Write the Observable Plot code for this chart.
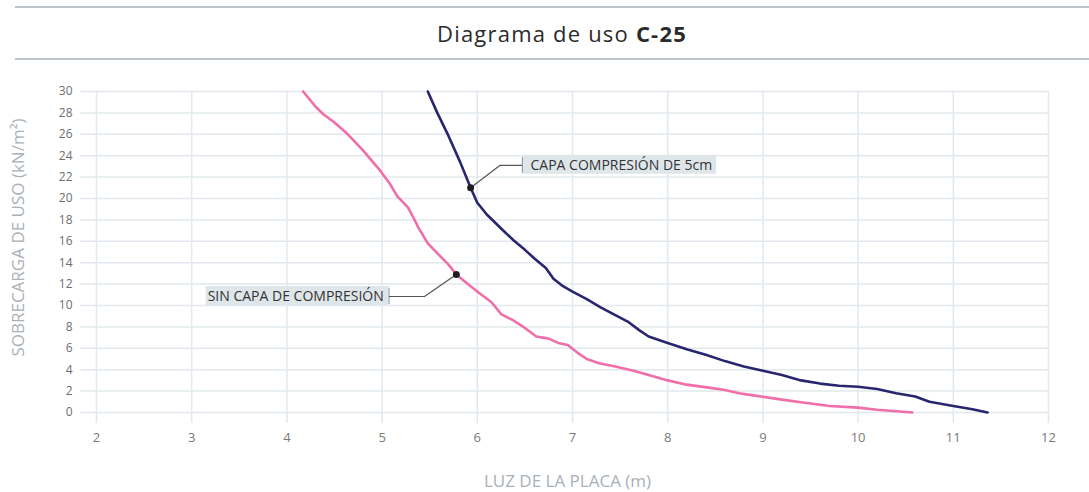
<!DOCTYPE html>
<html>
<head>
<meta charset="utf-8">
<script src="https://cdn.jsdelivr.net/npm/d3@7"></script>
<script src="https://cdn.jsdelivr.net/npm/@observablehq/plot@0.6"></script>
<style>
  html, body { margin: 0; padding: 0; background: #fff; width: 1089px; height: 492px; overflow: hidden; font-family: "Open Sans", sans-serif; }
  #header { position: absolute; left: 15px; top: 6px; width: 1074px; height: 50px; border-top: 2px solid #bcc3ca; border-bottom: 2px solid #bcc3ca; }
  #title { position: absolute; left: 0; width: 1074px; top: 10px; text-align: center; font-size: 22px; color: #2b2b2b; letter-spacing: 1.2px; padding-left: 20px; box-sizing: border-box; }
  #chart { position: absolute; left: 0; top: 60px; }
</style>
</head>
<body>
<div id="header"><div id="title">Diagrama de uso <b>C-25</b></div></div>
<div id="chart"></div>
<script>
// X ticks (m) and Y ticks (kN/m²)
const xTicks = [2, 3, 4, 5, 6, 7, 8, 9, 10, 11, 12];
const yTicks = [0, 2, 4, 6, 8, 10, 12, 14, 16, 18, 20, 22, 24, 26, 28, 30];

// CAPA COMPRESIÓN DE 5cm
const capaX = [5.48, 5.58, 5.7, 5.82, 5.93, 6.0, 6.1, 6.25, 6.38, 6.5, 6.6, 6.72, 6.8, 6.9, 7.0, 7.15, 7.3, 7.45, 7.58, 7.7, 7.8, 8.0, 8.2, 8.4, 8.6, 8.8, 9.0, 9.2, 9.4, 9.6, 9.8, 10.0, 10.2, 10.4, 10.6, 10.75, 11.0, 11.2, 11.36];
const capaY = [30, 28, 25.8, 23.4, 21, 19.6, 18.5, 17.2, 16.1, 15.2, 14.4, 13.5, 12.5, 11.8, 11.3, 10.6, 9.8, 9.1, 8.5, 7.7, 7.1, 6.5, 5.9, 5.4, 4.8, 4.3, 3.9, 3.5, 3.0, 2.7, 2.5, 2.4, 2.2, 1.8, 1.5, 1.0, 0.6, 0.3, 0];

// SIN CAPA DE COMPRESIÓN
const sinX = [4.17, 4.3, 4.38, 4.5, 4.64, 4.8, 4.98, 5.08, 5.16, 5.27, 5.33, 5.38, 5.48, 5.6, 5.7, 5.78, 5.9, 6.03, 6.15, 6.25, 6.38, 6.5, 6.62, 6.75, 6.85, 6.95, 7.05, 7.15, 7.28, 7.45, 7.64, 7.8, 8.0, 8.2, 8.45, 8.6, 8.75, 8.9, 9.2, 9.4, 9.7, 10.0, 10.2, 10.57];
const sinY = [30, 28.6, 27.9, 27.1, 26.0, 24.5, 22.6, 21.4, 20.2, 19.2, 18.2, 17.3, 15.8, 14.7, 13.8, 12.9, 12.0, 11.1, 10.3, 9.2, 8.6, 7.9, 7.1, 6.9, 6.5, 6.3, 5.6, 5.0, 4.6, 4.3, 3.9, 3.5, 3.0, 2.6, 2.3, 2.1, 1.8, 1.6, 1.2, 0.95, 0.6, 0.45, 0.25, 0];

// Callouts: point on curve, elbow, label anchor
const calloutText = ["CAPA COMPRESIÓN DE 5cm", "SIN CAPA DE COMPRESIÓN"];
const calloutPointX = [5.93, 5.78];
const calloutPointY = [21, 12.9];
const calloutElbowX = [6.24, 5.445];
const calloutElbowY = [23.1, 10.84];
const calloutLabelX = [6.475, 5.07];
const calloutLabelY = [23.1, 10.84];
const calloutSide = ["right", "left"];

const capa = capaX.map((x, i) => ({x, y: capaY[i]}));
const sin = sinX.map((x, i) => ({x, y: sinY[i]}));
const callouts = calloutText.map((t, i) => ({
  text: t, side: calloutSide[i],
  px: calloutPointX[i], py: calloutPointY[i],
  ex: calloutElbowX[i], ey: calloutElbowY[i],
  lx: calloutLabelX[i], ly: calloutLabelY[i]
}));
const leaderPts = callouts.flatMap((c, i) => [
  {x: c.px, y: c.py, k: i}, {x: c.ex, y: c.ey, k: i}, {x: c.lx, y: c.ly, k: i}
]);

const font = "'Open Sans', sans-serif";
const plot = Plot.plot({
  width: 1089,
  height: 432,
  marginLeft: 80,
  marginRight: 41,
  marginTop: 31,
  marginBottom: 69,
  style: {fontFamily: font, background: "transparent"},
  x: {domain: [1.832, 12], ticks: xTicks},
  y: {domain: [-1.03, 30], ticks: yTicks},
  marks: [
    Plot.ruleY(yTicks, {stroke: "#e2e8ed", strokeWidth: 1.5}),
    Plot.ruleX(xTicks, {stroke: "#e2e8ed", strokeWidth: 1.5}),
    Plot.axisX(xTicks, {tickSize: 0, tickPadding: 9, fontSize: 13, fill: "#7a7a7a", label: null}),
    Plot.axisY(yTicks, {tickSize: 0, tickPadding: 8, fontSize: 12, fill: "#6e6e6e", label: null}),
    Plot.text(["SOBRECARGA DE USO (kN/m²)"], {frameAnchor: "left", textAnchor: "middle", rotate: -90, dx: -62, dy: -20, fontSize: 17, fill: "#a9b0b7"}),
    Plot.text(["LUZ DE LA PLACA (m)"], {frameAnchor: "bottom", textAnchor: "middle", dy: 63, dx: 3, fontSize: 17, fill: "#a9b0b7"}),
    Plot.line(sin, {x: "x", y: "y", stroke: "#f06eaa", strokeWidth: 2.6}),
    Plot.line(capa, {x: "x", y: "y", stroke: "#27266f", strokeWidth: 2.6}),
    Plot.line(leaderPts, {x: "x", y: "y", z: "k", stroke: "#555", strokeWidth: 1.2}),
    Plot.ruleX(callouts, {x: "lx", y1: d => d.ly - 0.75, y2: d => d.ly + 0.75, stroke: "#555", strokeWidth: 1.2}),
    Plot.dot(callouts, {x: "px", y: "py", r: 3.5, fill: "#1e1e1e"}),
    Plot.text(callouts.filter(c => c.side === "right"), {x: "lx", y: "ly", text: "text", textAnchor: "start", dx: 8, fontSize: 14, fill: "#333", className: "callout"}),
    Plot.text(callouts.filter(c => c.side === "left"), {x: "lx", y: "ly", text: "text", textAnchor: "end", dx: -5, fontSize: 14, fill: "#333", className: "callout"})
  ]
});
document.getElementById("chart").appendChild(plot);

// background boxes behind callout labels
plot.querySelectorAll("g.callout text").forEach(t => {
  const b = t.getBBox();
  const r = document.createElementNS("http://www.w3.org/2000/svg", "rect");
  const anchorStart = t.closest("g").getAttribute("text-anchor") === "start";
  r.setAttribute("x", b.x - (anchorStart ? 8 : 2));
  r.setAttribute("y", b.y);
  r.setAttribute("width", b.width + (anchorStart ? 12 : 7));
  r.setAttribute("height", b.height);
  r.setAttribute("fill", "#dfe6ea");
  const tr = t.getAttribute("transform");
  if (tr) r.setAttribute("transform", tr);
  t.parentNode.insertBefore(r, t);
});
</script>
</body>
</html>
